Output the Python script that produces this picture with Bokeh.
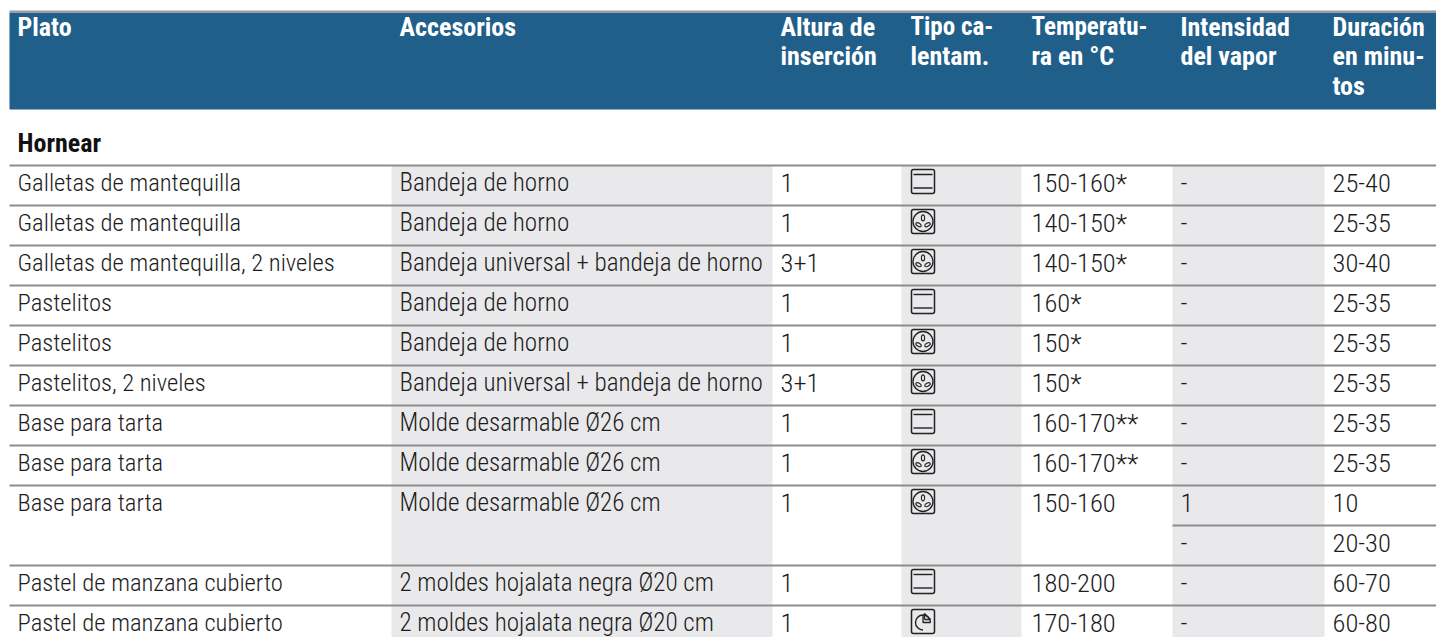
from bokeh.plotting import figure
from bokeh.embed import file_html
from bokeh.resources import INLINE
from bokeh.core.properties import value
import math

headers = [["Plato"], ["Accesorios"], ["Altura de", "inserción"], ["Tipo ca-", "lentam."],
           ["Temperatu-", "ra en °C"], ["Intensidad", "del vapor"], ["Duración", "en minu-", "tos"]]
section = "Hornear"
platos = ["Galletas de mantequilla", "Galletas de mantequilla", "Galletas de mantequilla, 2 niveles",
          "Pastelitos", "Pastelitos", "Pastelitos, 2 niveles", "Base para tarta", "Base para tarta",
          "Base para tarta", "Pastel de manzana cubierto", "Pastel de manzana cubierto"]
accesorios = ["Bandeja de horno", "Bandeja de horno", "Bandeja universal + bandeja de horno",
              "Bandeja de horno", "Bandeja de horno", "Bandeja universal + bandeja de horno",
              "Molde desarmable Ø26 cm", "Molde desarmable Ø26 cm", "Molde desarmable Ø26 cm",
              "2 moldes hojalata negra Ø20 cm", "2 moldes hojalata negra Ø20 cm"]
alturas = ["1", "1", "3+1", "1", "1", "3+1", "1", "1", "1", "1", "1"]
calentamiento = ["top", "fan", "fan", "top", "fan", "fan", "top", "fan", "fan", "top", "pizza"]
temperaturas = ["150-160*", "140-150*", "140-150*", "160*", "150*", "150*", "160-170**", "160-170**",
                "150-160", "180-200", "170-180"]
vapor = [["-"], ["-"], ["-"], ["-"], ["-"], ["-"], ["-"], ["-"], ["1", "-"], ["-"], ["-"]]
duracion = [["25-40"], ["25-35"], ["30-40"], ["25-35"], ["25-35"], ["25-35"], ["25-35"], ["25-35"],
            ["10", "20-30"], ["60-70"], ["60-80"]]

# layout (page pixels)
W, H = 1436, 637
LEFT = 9
COL_TEXT = [18, 400, 781, 911, 1032, 1181, 1333]
BANDS = [(391, 772), (901, 1021), (1172, 1324)]
ROW_H = 40
FIRST_LINE = 165
FONT = value("Roboto Condensed Light")
HEAD_FONT = value("Roboto Condensed")
BODY = "24.6px"
ACC = "25.1px"
NUM = "26.5px"
HEAD = "26px"
HEAD_NARROW = "25px"
INK = "#1c1c1c"
RULE = "#8e8e8e"
ICON = "#222222"

p = figure(width=W, height=H, x_range=(0, W), y_range=(H, 0), output_backend="svg",
           toolbar_location=None, min_border=0, outline_line_color=None)
p.axis.visible = False
p.grid.visible = False
p.background_fill_color = "white"
p.border_fill_color = "white"

# header
p.quad(left=[LEFT], right=[W], top=[12], bottom=[109], fill_color="#215f8b", line_color=None)
p.segment([LEFT], [11], [W], [11], line_color="#9a9a9a", line_width=2)

# grey bands
p.quad(left=[b[0] for b in BANDS], right=[b[1] for b in BANDS], top=[FIRST_LINE] * 3, bottom=[H] * 3,
       fill_color="#e9e9eb", line_color=None)

# rules
y = FIRST_LINE
line_y = []
text_rows = []
sub_rules = []
for v in vapor:
    line_y.append(y)
    text_rows.append(y)
    if len(v) == 2:
        sub_rules.append(y + ROW_H)
    y += ROW_H * len(v)
p.segment([LEFT] * len(line_y), line_y, [W] * len(line_y), line_y, line_color=RULE, line_width=2)
p.segment([BANDS[2][0]] * len(sub_rules), sub_rules, [W] * len(sub_rules), sub_rules, line_color=RULE, line_width=2)


def put(x, y, s, color=INK, style="normal", size=BODY, font=FONT):
    p.text([x], [y], text=[s], text_font=font, text_font_size=size, text_font_style=style,
           text_color=color, text_baseline="middle", text_align="left")


for k, (x, lines) in enumerate(zip(COL_TEXT, headers)):
    for i, s in enumerate(lines):
        size = HEAD_NARROW if k in (3, 4) and i == 0 else HEAD
        put(x - 1, 26 + i * 29.5, s, "white", "bold", size, HEAD_FONT)
put(COL_TEXT[0] - 1, 142, section, "#111111", "bold", HEAD, HEAD_FONT)

MID = 17


def icon(kind, x, top):
    w, h = 23, 24
    p.quad(left=[x], right=[x + w], top=[top], bottom=[top + h], fill_color=None, line_color=ICON,
           line_width=1.5, border_radius=2)
    cx, cy = x + w / 2, top + h / 2
    if kind == "top":
        p.segment([x + 2, x + 2], [top + 5, top + 18.5], [x + w - 2, x + w - 2], [top + 5, top + 18.5],
                  line_color=ICON, line_width=1.4)
    elif kind == "fan":
        p.circle([cx], [cy], radius=10, fill_color=None, line_color=ICON, line_width=1.3)
        for dx, dy, a in [(0, -3.6, math.pi / 2), (-4.5, 3.2, -math.pi / 6), (4.5, 3.2, math.pi / 6)]:
            p.ellipse([cx + dx], [cy + dy], width=6, height=3.2, angle=a,
                      fill_color=None, line_color=ICON, line_width=1.1)
    else:
        p.arc([cx], [cy + 1], radius=7.5, start_angle=0.0, end_angle=-math.pi / 2, direction="anticlock",
              line_color=ICON, line_width=1.4)
        p.multi_line([[cx, cx, cx + 7.5], [cx + 1.5, cx + 1.5, cx + 7.5, cx + 1.5]],
                     [[cy - 6.5, cy + 1, cy + 1], [cy - 2, cy - 8, cy - 2, cy - 2]],
                     line_color=ICON, line_width=1.3)


for i, top in enumerate(text_rows):
    c = top + MID
    put(COL_TEXT[0] - 1, c, platos[i])
    put(COL_TEXT[1] - 1, c, accesorios[i], size=ACC)
    put(COL_TEXT[2] - 1, c, alturas[i], size=NUM)
    icon(calentamiento[i], COL_TEXT[3], top + 4)
    put(COL_TEXT[4] - 1, c, temperaturas[i], size=NUM)
    for j, (v, d) in enumerate(zip(vapor[i], duracion[i])):
        put(COL_TEXT[5] - 1, c + j * ROW_H, v, size=NUM)
        put(COL_TEXT[6] - 1, c + j * ROW_H, d, size=NUM)

open("out.html", "w").write(file_html(p, INLINE))
